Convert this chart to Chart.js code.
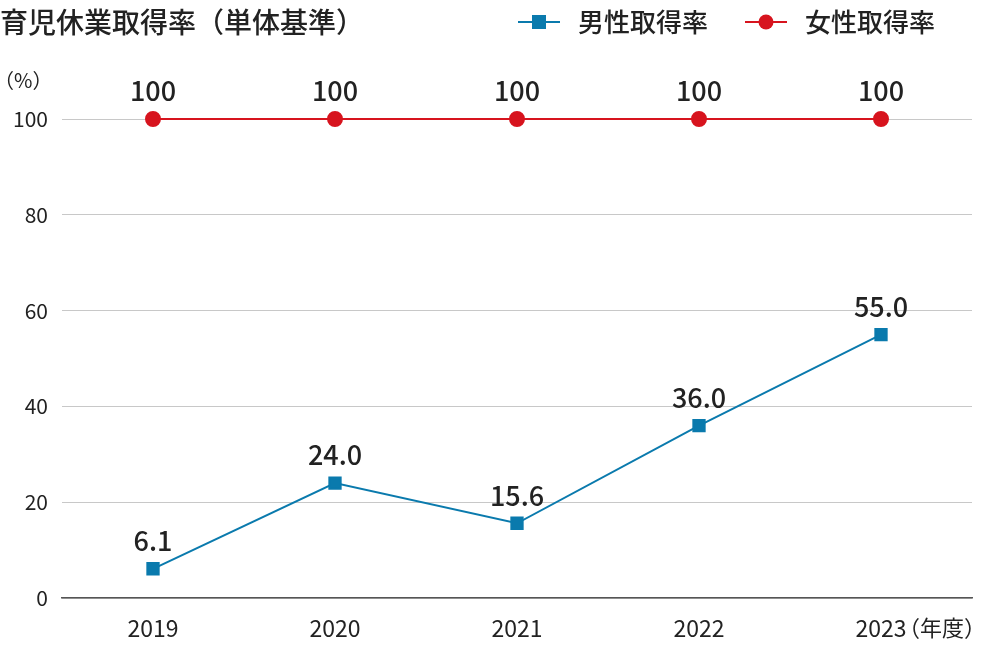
<!DOCTYPE html>
<html><head><meta charset="utf-8">
<script src="https://cdn.jsdelivr.net/npm/chart.js@4"></script>
<style>html,body{margin:0;background:#fff}#wrap{width:1000px;height:646px}</style>
</head><body><div id="wrap"><canvas id="c"></canvas></div>
<script>
const years = ['2019', '2020', '2021', '2022', '2023'];
const maleRate = [6.1, 24.0, 15.6, 36.0, 55.0];
const femaleRate = [100, 100, 100, 100, 100];
const maleLabels = ['6.1', '24.0', '15.6', '36.0', '55.0'];
const femaleLabels = ['100', '100', '100', '100', '100'];
const FONT = '"Noto Sans CJK JP", "Noto Sans", sans-serif';

const blue = '#0a7aad', red = '#d7141e';

// header texts, legend and value labels
const extras = {
    id: 'extras',
    afterDatasetsDraw(chart) {
        const ctx = chart.ctx;
        ctx.save();
        ctx.fillStyle = '#222';
        ctx.textBaseline = 'middle';
        ctx.font = '500 28px ' + FONT;
        ctx.textAlign = 'left';
        ctx.fillText('育児休業取得率（単体基準）', 0, 22);
        ctx.font = '20px ' + FONT;
        ctx.fillText('（%）', -6, 80);
        ctx.font = '22px ' + FONT;
        ctx.fillText('（年度）', 898, 628);

        // legend
        const items = [['男性取得率', blue, 'rect', 518], ['女性取得率', red, 'circle', 745]];
        items.forEach(([txt, col, shape, x]) => {
            ctx.strokeStyle = col; ctx.lineWidth = 2;
            ctx.beginPath(); ctx.moveTo(x, 22); ctx.lineTo(x + 42, 22); ctx.stroke();
            ctx.fillStyle = col;
            if (shape === 'rect') ctx.fillRect(x + 14, 15, 14, 14);
            else { ctx.beginPath(); ctx.arc(x + 21, 22, 7.5, 0, Math.PI * 2); ctx.fill(); }
            ctx.fillStyle = '#222';
            ctx.font = '500 26px ' + FONT;
            ctx.fillText(txt, x + 60, 22);
        });

        // value labels
        ctx.textAlign = 'center';
        ctx.font = '500 27px ' + FONT;
        [maleLabels, femaleLabels].forEach((labels, di) => {
            chart.getDatasetMeta(di).data.forEach((pt, i) => {
                ctx.fillText(labels[i], pt.x, pt.y - 28);
            });
        });
        ctx.restore();
    }
};

new Chart(document.getElementById('c'), {
    type: 'line',
    data: {
        labels: years,
        datasets: [
            { label: '男性取得率', data: maleRate, borderColor: blue, backgroundColor: blue,
              borderWidth: 2, pointStyle: 'rect', pointRadius: 8, pointHoverRadius: 8, clip: false },
            { label: '女性取得率', data: femaleRate, borderColor: red, backgroundColor: red,
              borderWidth: 2, pointStyle: 'circle', pointRadius: 7, pointHoverRadius: 7, clip: false }
        ]
    },
    options: {
        responsive: true,
        maintainAspectRatio: false,
        animation: false,
        layout: { padding: { top: 119, right: 28, left: 0, bottom: 0 } },
        plugins: { legend: { display: false }, tooltip: { enabled: false } },
        scales: {
            x: {
                offset: true,
                grid: { display: false, drawTicks: false },
                border: { color: '#555', width: 1.5 },
                ticks: { color: '#222', font: { size: 23, family: FONT }, padding: 16 },
                afterFit(s) { s.height = 48; }
            },
            y: {
                min: 0, max: 100,
                ticks: { stepSize: 20, color: '#222', font: { size: 21, family: FONT }, padding: 14 },
                grid: { color: '#c8c8c8', lineWidth: 1, drawTicks: false },
                border: { display: false },
                afterFit(s) { s.width = 62; }
            }
        }
    },
    plugins: [extras]
});
</script>
</body></html>
